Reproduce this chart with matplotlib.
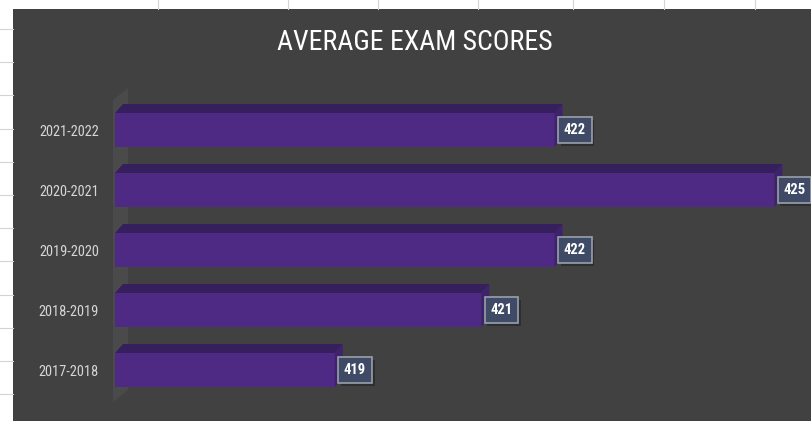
import matplotlib
matplotlib.use("Agg")
import matplotlib.pyplot as plt
from matplotlib.patches import Polygon, Rectangle
import matplotlib.patheffects as pe
from matplotlib import font_manager

weights = {}
for f in font_manager.fontManager.ttflist:
    try:
        wv = int(f.weight)
    except (TypeError, ValueError):
        wv = 400
    if f.style == "normal":
        weights.setdefault(f.name, set()).add(wv)

def pick(prefs, max_w=None, min_w=None):
    for p in prefs:
        ws = weights.get(p, set())
        if not ws:
            continue
        if max_w is not None and not any(w <= max_w for w in ws):
            continue
        if min_w is not None and not any(w >= min_w for w in ws):
            continue
        return p
    return "DejaVu Sans"

COND = pick(["Open Sans Condensed", "Roboto Condensed", "Asap Condensed", "Archivo Narrow",
             "PT Sans Narrow", "Carlito", "Lato"], max_w=400)
BOLD = pick(["Roboto Condensed", "Open Sans Condensed", "Asap Condensed", "Archivo Narrow",
             "Carlito", "Lato"], min_w=700)

categories = ["2017-2018", "2018-2019", "2019-2020", "2020-2021", "2021-2022"]
values = [419, 421, 422, 425, 422]
title = "AVERAGE EXAM SCORES"
x_min, x_max = 416, 425.5

W, H = 811, 421
fig = plt.figure(figsize=(W / 100, H / 100), dpi=100, facecolor="white")
renderer = fig.canvas.get_renderer()

def fx(x):
    return x / W

def fy(y):
    return 1 - y / H

def fit(text_obj, target_px):
    w = text_obj.get_window_extent(renderer=renderer).width
    text_obj.set_fontsize(text_obj.get_fontsize() * target_px / w)

# spreadsheet background (white strips with grid lines)
for gx in [158, 288, 378, 478, 573, 664, 755]:
    fig.add_artist(plt.Line2D([fx(gx), fx(gx)], [fy(0), fy(9)], color="#d4d4d4", lw=0.8))
for i in range(12):
    gy = 29 + 33.2 * i
    fig.add_artist(plt.Line2D([fx(0), fx(13)], [fy(gy), fy(gy)], color="#d4d4d4", lw=0.8))

# dark chart area
fig.add_artist(Rectangle((fx(13), 0), 1 - fx(13), fy(9), transform=fig.transFigure,
                         facecolor="#414141", edgecolor="none", zorder=-2))

# 3D side wall
wall = [(113, 100), (128, 88), (128, 390), (113, 402)]
fig.add_artist(Polygon([(fx(x), fy(y)) for x, y in wall], closed=True,
                       transform=fig.transFigure, facecolor="#4a4a4a",
                       edgecolor="none", zorder=-1))

ax_left, ax_top, ax_bottom = 115, 88, 412
ax = fig.add_axes([fx(ax_left), 1 - ax_bottom / H, 1 - fx(ax_left), (ax_bottom - ax_top) / H])
ax.set_facecolor("none")
ax.set_xlim(x_min, x_max)
ax.set_ylim(-0.7, 4.7)
for s in ax.spines.values():
    s.set_visible(False)

px_x = (x_max - x_min) / (W - ax_left)          # data units per pixel (x)
px_y = 5.4 / (ax_bottom - ax_top)               # data units per pixel (y)
dx, dy = 8 * px_x, 9 * px_y
h = 34 * px_y

front = "#4e2a84"
topc = "#351f5c"
sidec = "#3e226e"

ypos = list(range(len(categories)))
ax.barh(ypos, [v - x_min for v in values], left=x_min, height=h, color=front, zorder=2)
for y, v in zip(ypos, values):
    top = [(x_min, y + h / 2), (v, y + h / 2), (v + dx, y + h / 2 + dy), (x_min + dx, y + h / 2 + dy)]
    ax.add_patch(Polygon(top, closed=True, facecolor=topc, edgecolor="none", zorder=2))
    side = [(v, y - h / 2), (v + dx, y - h / 2 + dy), (v + dx, y + h / 2 + dy), (v, y + h / 2)]
    ax.add_patch(Polygon(side, closed=True, facecolor=sidec, edgecolor="none", zorder=2))
    t = ax.annotate(f"{v}", xy=(v, y), xytext=(6.5, 0), textcoords="offset points",
                    ha="left", va="center", fontsize=10.5, fontweight="bold", color="white",
                    family=BOLD, zorder=5,
                    bbox=dict(boxstyle="square,pad=0.4", facecolor="#3f4b66",
                              edgecolor="#9aa0aa", linewidth=1.2))
    t.get_bbox_patch().set_path_effects([pe.SimplePatchShadow(offset=(2, -2), alpha=0.45),
                                         pe.Normal()])

ax.set_xticks([])
ax.set_yticks(ypos)
labels = ax.set_yticklabels(categories, family=COND, fontsize=10.5, color="#d6d6d6",
                            fontweight="normal")
ax.tick_params(axis="y", length=0, pad=11.5)
fig.canvas.draw()
w0 = labels[0].get_window_extent(renderer=renderer).width
for lab in labels:
    lab.set_fontsize(lab.get_fontsize() * 61 / w0)

tt = fig.text(fx(415), fy(43), title, ha="center", va="center", color="white",
              fontsize=20, family=COND, fontweight="normal")
fit(tt, 276)

fig.savefig("out.png", dpi=100, facecolor="white")
